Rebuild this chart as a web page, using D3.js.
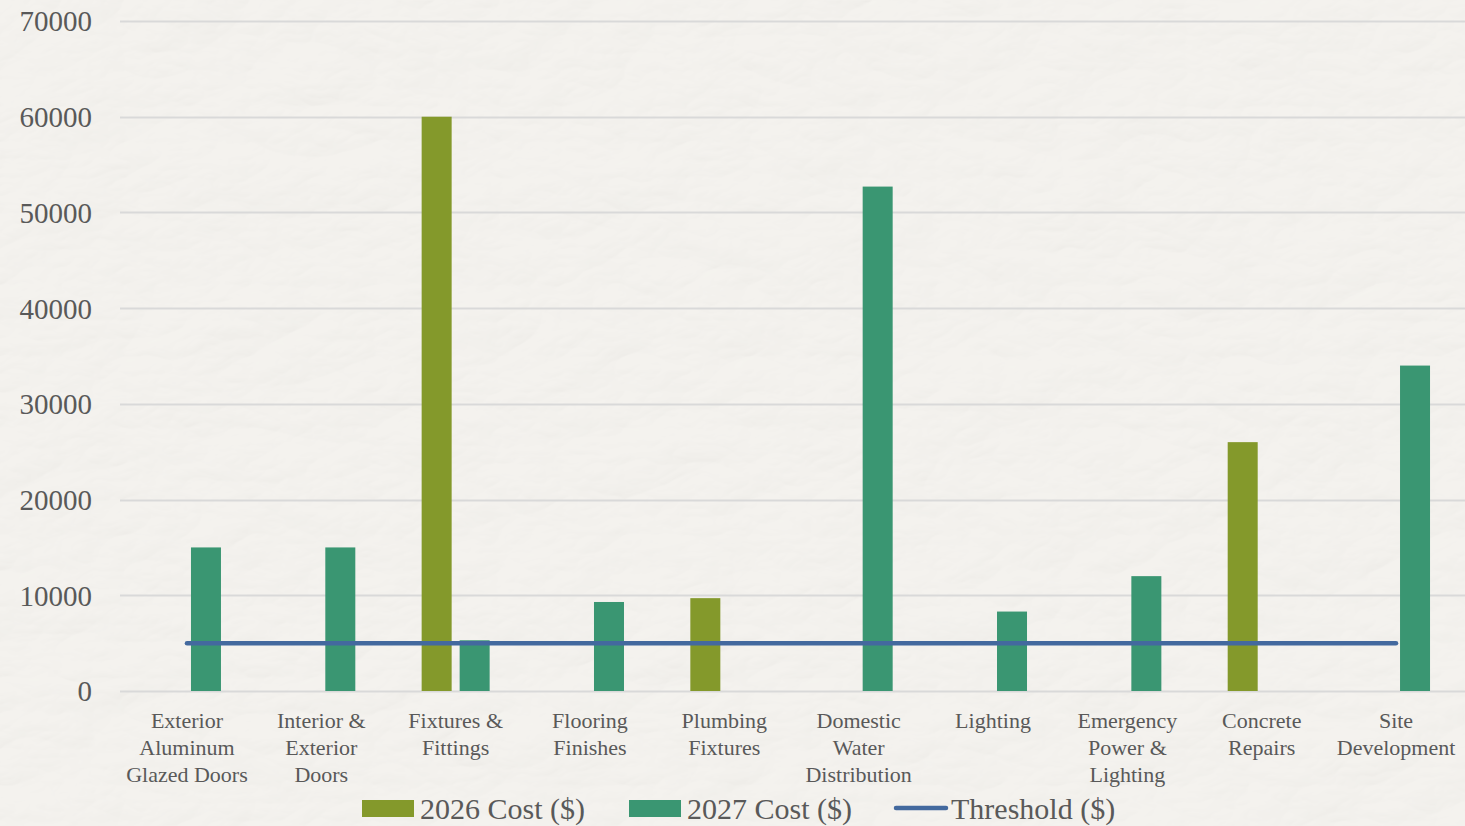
<!DOCTYPE html>
<html>
<head>
<meta charset="utf-8">
<script src="https://cdn.jsdelivr.net/npm/d3@7"></script>
<style>
  html, body { margin: 0; padding: 0; background: #f4f2ee; }
  svg { display: block; }
  text { font-family: "Liberation Serif", "DejaVu Serif", serif; fill: #595959; }
</style>
</head>
<body>
<svg id="chart" width="1465" height="826"></svg>
<script>
const categories = [
  ["Exterior", "Aluminum", "Glazed Doors"],
  ["Interior &", "Exterior", "Doors"],
  ["Fixtures &", "Fittings"],
  ["Flooring", "Finishes"],
  ["Plumbing", "Fixtures"],
  ["Domestic", "Water", "Distribution"],
  ["Lighting"],
  ["Emergency", "Power &", "Lighting"],
  ["Concrete", "Repairs"],
  ["Site", "Development"]
];
const cost2026 = [null, null, 60000, null, 9700, null, null, null, 26000, null];
const cost2027 = [15000, 15000, 5300, 9300, null, 52700, 8300, 12000, null, 34000];
const threshold = [5000, 5000, 5000, 5000, 5000, 5000, 5000, 5000, 5000, 5000];
const yTicks = [0, 10000, 20000, 30000, 40000, 50000, 60000, 70000];
const seriesNames = ["2026 Cost ($)", "2027 Cost ($)", "Threshold ($)"];

const W = 1465, H = 826;
const svg = d3.select("#chart");

// paper-like background
const defs = svg.append("defs");
const f = defs.append("filter").attr("id", "paper").attr("x", 0).attr("y", 0).attr("width", "100%").attr("height", "100%");
f.append("feTurbulence").attr("type", "turbulence").attr("baseFrequency", "0.008 0.014").attr("numOctaves", 4).attr("seed", 11).attr("result", "noise");
const light = f.append("feDiffuseLighting").attr("in", "noise").attr("lighting-color", "#f8f6f2").attr("surfaceScale", 2).attr("result", "lit");
light.append("feDistantLight").attr("azimuth", 235).attr("elevation", 72);
svg.append("rect").attr("width", W).attr("height", H).attr("fill", "#f4f2ee");
svg.append("rect").attr("width", W).attr("height", H).attr("filter", "url(#paper)").attr("opacity", 0.45);

const idx = d3.range(categories.length);
const x = d3.scaleBand().domain(idx).range([119.8, 1463.2]).paddingInner(0).paddingOuter(0);
const y = d3.scaleLinear().domain([0, 70000]).range([691, 21]);

// gridlines
svg.append("g").selectAll("line").data(yTicks).join("line")
  .attr("x1", 120).attr("x2", W)
  .attr("y1", d => Math.round(y(d)) + 0.5).attr("y2", d => Math.round(y(d)) + 0.5)
  .attr("stroke", "#d9d9d9").attr("stroke-width", 2);

// y axis labels
const yAxis = d3.axisLeft(y).tickValues(yTicks).tickSize(0).tickPadding(0).tickFormat(d3.format("d"));
const ya = svg.append("g").attr("transform", "translate(92,0)").call(yAxis);
ya.select(".domain").remove();
ya.selectAll("text").style("font-family", "'Liberation Serif', serif").style("font-size", "29px").attr("fill", "#595959").attr("dy", "0.34em");

// bars
const bw = 30, off = 19;
const sub = [{vals: cost2026, color: "#84992b", dx: -off}, {vals: cost2027, color: "#3a9672", dx: off}];
sub.forEach(s => {
  svg.append("g").selectAll("rect").data(idx.filter(i => s.vals[i] != null)).join("rect")
    .attr("x", i => x(i) + x.bandwidth() / 2 + s.dx - bw / 2)
    .attr("width", bw)
    .attr("y", i => y(s.vals[i]))
    .attr("height", i => y(0) - y(s.vals[i]))
    .attr("fill", s.color);
});

// threshold line
const line = d3.line().x(i => x(i) + x.bandwidth() / 2).y(i => y(threshold[i]));
svg.append("path").datum(idx).attr("d", line)
  .attr("fill", "none").attr("stroke", "#43699e").attr("stroke-width", 4.5).attr("stroke-linecap", "round");

// category labels
const cg = svg.append("g").selectAll("text").data(idx).join("text")
  .attr("x", i => x(i) + x.bandwidth() / 2)
  .attr("y", 728)
  .attr("text-anchor", "middle")
  .style("font-size", "22px");
cg.each(function(i) {
  d3.select(this).selectAll("tspan").data(categories[i]).join("tspan")
    .attr("x", x(i) + x.bandwidth() / 2)
    .attr("dy", (d, j) => j === 0 ? 0 : 27)
    .text(d => d);
});

// legend
const lg = svg.append("g");
const legendItems = [
  {name: seriesNames[0], type: "rect", color: "#84992b", x: 362},
  {name: seriesNames[1], type: "rect", color: "#3a9672", x: 629},
  {name: seriesNames[2], type: "line", color: "#43699e", x: 893}
];
legendItems.forEach(it => {
  if (it.type === "rect") {
    lg.append("rect").attr("x", it.x).attr("y", 800).attr("width", 52).attr("height", 17).attr("fill", it.color);
  } else {
    lg.append("line").attr("x1", it.x + 3).attr("x2", it.x + 53).attr("y1", 808).attr("y2", 808)
      .attr("stroke", it.color).attr("stroke-width", 4.5).attr("stroke-linecap", "round");
  }
  lg.append("text").attr("x", it.x + 58).attr("y", 808).attr("dy", "0.35em")
    .style("font-size", "30px").text(it.name);
});
</script>
</body>
</html>
